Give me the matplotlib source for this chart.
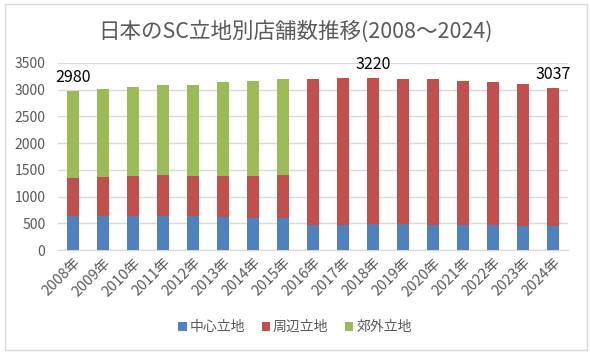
import numpy as np
import matplotlib.pyplot as plt
from matplotlib.patches import Rectangle

plt.rcParams['font.family'] = ['Noto Sans CJK JP', 'DejaVu Sans']

years = [f'{y}年' for y in range(2008, 2025)]
center = [644, 644, 644, 631, 631, 619, 606, 606,
          469, 463, 481, 481, 469, 475, 469, 450, 444]
around = [700, 725, 744, 769, 757, 769, 782, 794,
          2737, 2754, 2739, 2725, 2725, 2694, 2669, 2650, 2593]
suburb = [1636, 1650, 1662, 1694, 1706, 1750, 1775, 1794,
          0, 0, 0, 0, 0, 0, 0, 0, 0]
labels = {0: 2980, 10: 3220, 16: 3037}

colors = ['#4F81BD', '#C0504D', '#9BBB59']
names = ['中心立地', '周辺立地', '郊外立地']

fig = plt.figure(figsize=(5.9, 3.53), dpi=100)
fig.patches.append(Rectangle((0.008, 0.008), 0.987, 0.982, transform=fig.transFigure,
                             fill=False, edgecolor='#D9D9D9', lw=1))
ax = fig.add_axes([58 / 590, 1 - 250 / 353, 510 / 590, 187 / 353])

x = np.arange(len(years))
c = np.array(center)
a = np.array(around)
s = np.array(suburb)
w = 0.4
ax.bar(x, c, w, color=colors[0], label=names[0], zorder=3)
ax.bar(x, a, w, bottom=c, color=colors[1], label=names[1], zorder=3)
ax.bar(x, s, w, bottom=c + a, color=colors[2], label=names[2], zorder=3)

for i, v in labels.items():
    ax.text(i, v + 90, str(v), ha='center', va='bottom', fontsize=11.5)

ax.set_xlim(-0.5, len(years) - 0.5)
ax.set_ylim(0, 3500)
ax.set_yticks(range(0, 3501, 500))
ax.grid(axis='y', color='#D9D9D9', lw=1, zorder=0)
for sp in ['top', 'right', 'left']:
    ax.spines[sp].set_visible(False)
ax.spines['bottom'].set_color('#D9D9D9')
ax.tick_params(length=0, labelsize=10, colors='#595959')
ax.tick_params(axis='y', pad=9)
ax.tick_params(axis='x', labelsize=10.5, pad=4)
ax.set_xticks(x)
ax.set_xticklabels(years, rotation=45, ha='right', rotation_mode='anchor')

fig.text(0.5, 0.91, '日本のSC立地別店舗数推移(2008～2024)', ha='center', va='center',
         fontsize=15.5, color='#595959')
fig.legend(loc='center', bbox_to_anchor=(0.5, 1 - 327 / 353), ncol=3, frameon=False,
           fontsize=10, handlelength=0.6, handleheight=0.6, columnspacing=1.2,
           handletextpad=0.2, labelcolor='#595959')

fig.savefig('out.png')
